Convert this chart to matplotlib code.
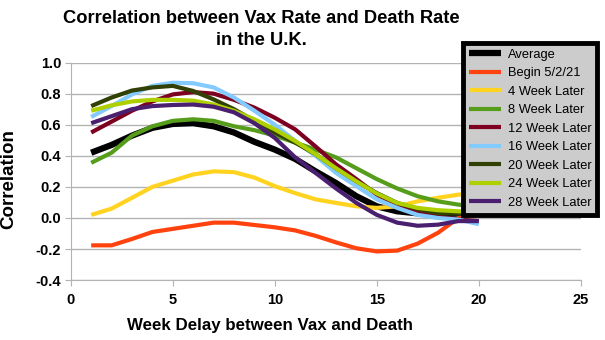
import matplotlib
matplotlib.use("Agg")
import matplotlib.pyplot as plt

plt.rcParams['font.family'] = ['Liberation Sans', 'DejaVu Sans']

weeks = list(range(1, 21))

average = [0.42, 0.47, 0.53, 0.58, 0.605, 0.61, 0.59, 0.55, 0.49, 0.44,
           0.38, 0.30, 0.225, 0.14, 0.075, 0.043, 0.03, 0.026, 0.028, 0.03]
begin = [-0.176, -0.176, -0.135, -0.09, -0.07, -0.05, -0.03, -0.03, -0.045, -0.06,
         -0.08, -0.115, -0.157, -0.195, -0.215, -0.21, -0.165, -0.095, 0.0, 0.05]
wk4 = [0.02, 0.06, 0.13, 0.20, 0.24, 0.28, 0.30, 0.295, 0.26, 0.205,
       0.16, 0.12, 0.097, 0.075, 0.065, 0.075, 0.107, 0.13, 0.15, 0.16]
wk8 = [0.355, 0.42, 0.53, 0.59, 0.625, 0.635, 0.625, 0.59, 0.565, 0.53,
       0.485, 0.44, 0.39, 0.32, 0.25, 0.19, 0.14, 0.107, 0.086, 0.07]
wk12 = [0.55, 0.62, 0.69, 0.75, 0.795, 0.81, 0.80, 0.76, 0.71, 0.645,
        0.57, 0.46, 0.345, 0.25, 0.15, 0.086, 0.043, 0.01, -0.01, -0.02]
wk16 = [0.65, 0.72, 0.795, 0.85, 0.87, 0.867, 0.84, 0.775, 0.69, 0.60,
        0.495, 0.40, 0.29, 0.205, 0.12, 0.065, 0.02, 0.0, -0.01, -0.04]
wk20 = [0.72, 0.775, 0.82, 0.84, 0.85, 0.817, 0.763, 0.70, 0.625, 0.55,
        0.485, 0.41, 0.32, 0.236, 0.16, 0.097, 0.058, 0.03, 0.028, 0.02]
wk24 = [0.69, 0.725, 0.75, 0.76, 0.76, 0.755, 0.73, 0.69, 0.635, 0.57,
        0.495, 0.41, 0.32, 0.236, 0.157, 0.097, 0.065, 0.05, 0.043, 0.04]
wk28 = [0.61, 0.655, 0.70, 0.72, 0.727, 0.73, 0.716, 0.68, 0.61, 0.515,
        0.39, 0.29, 0.19, 0.097, 0.02, -0.03, -0.05, -0.043, -0.02, -0.02]

series = [average, begin, wk4, wk8, wk12, wk16, wk20, wk24, wk28]
labels = ['Average', 'Begin 5/2/21', '4 Week Later', '8 Week Later', '12 Week Later',
          '16 Week Later', '20 Week Later', '24 Week Later', '28 Week Later']
colors = ['#000000', '#ff420e', '#ffd320', '#579d1c', '#7e0021',
          '#83caff', '#314004', '#aecf00', '#4b1f6f']

fig = plt.figure(figsize=(6.05, 3.4), dpi=100)
ax = fig.add_axes([0.117, 0.176, 0.843, 0.64])

for vals, lab, col in zip(series, labels, colors):
    lw = 4.5 if lab == 'Average' else 3
    ax.plot(weeks, vals, color=col, lw=lw, label=lab, solid_capstyle='butt')

ax.set_xlim(0, 25)
ax.set_ylim(-0.4, 1.0)
ax.set_xticks([0, 5, 10, 15, 20, 25])
ax.set_yticks([-0.4, -0.2, 0.0, 0.2, 0.4, 0.6, 0.8, 1.0])
ax.set_yticklabels(['%.1f' % v for v in ax.get_yticks()])
ax.yaxis.grid(True, color='#b3b3b3', lw=1)
ax.set_axisbelow(True)
for s in ['top', 'right']:
    ax.spines[s].set_visible(False)
for s in ['left', 'bottom']:
    ax.spines[s].set_color('#b3b3b3')
ax.tick_params(length=4, color='#b3b3b3', labelsize=10.5, pad=3)
ax.tick_params(axis='x', pad=5)
for t in ax.get_xticklabels() + ax.get_yticklabels():
    t.set_fontweight('bold')

ax.set_xlabel('Week Delay between Vax and Death', fontsize=12.2, fontweight='bold')
ax.xaxis.set_label_coords(0.391, -0.175)
ax.set_ylabel('Correlation', fontsize=13.5, fontweight='bold')
ax.yaxis.set_label_coords(-0.105, 0.465)
fig.suptitle('Correlation between Vax Rate and Death Rate\nin the U.K.',
             fontsize=13.2, fontweight='bold', y=0.972, x=0.432, linespacing=1.45)

leg = fig.legend(loc='upper left', bbox_to_anchor=(463 / 605, 1 - 43 / 340),
                 fontsize=9.3, frameon=True, fancybox=False, handlelength=2.5,
                 labelspacing=0.5, borderpad=0.45, handletextpad=0.5, borderaxespad=0)
leg.get_frame().set_facecolor('#cccccc')
leg.get_frame().set_edgecolor('#000000')
leg.get_frame().set_linewidth(3.5)
leg.get_frame().set_alpha(1)

fig.savefig('out.png', dpi=100)
